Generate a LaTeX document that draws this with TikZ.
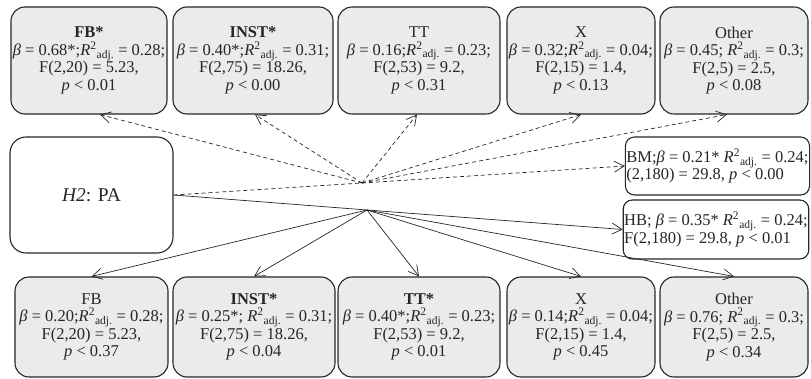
\documentclass[tikz,border=0pt]{standalone}
\usepackage{fontspec}
\setmainfont{Liberation Serif}
\usetikzlibrary{arrows.meta}
\definecolor{boxfill}{HTML}{EBEBEB}
\definecolor{ink}{HTML}{262626}
\newcommand\bb{{\itshape β}}
\newcommand\pp{{\itshape p}}
\newcommand\myR{{\itshape R}\textsuperscript{2}\textsubscript{adj.}}
\begin{document}
\begin{tikzpicture}[x=1pt,y=-1pt,
  every node/.style={font=\fontsize{16.5}{17.5}\selectfont, text=ink},
  gbox/.style={draw=ink, line width=1.1pt, fill=boxfill, rounded corners=14pt,
    align=center, inner sep=0pt, minimum height=#1},
  gbox/.default=107,
  wbox/.style={draw=ink, line width=1.1pt, fill=white, rounded corners=9pt,
    align=left, inner sep=1pt},
  dline/.style={ink, line width=0.7pt, dash pattern=on 4pt off 3pt,
    -{Straight Barb[length=10pt,width=11pt]}},
  sline/.style={ink, line width=0.7pt, -{Straight Barb[length=10pt,width=11pt]}},
  plain/.style={ink, line width=0.7pt}
]
\useasboundingbox (0,0) rectangle (811,379);
% top row
\node[gbox, minimum width=156pt] (t1) at (89,60.5) {\textbf{FB*}\\\bb{} = 0.68*;\myR{} = 0.28;\\F(2,20) = 5.23,\\\pp{} < 0.01};
\node[gbox, minimum width=160pt] (t2) at (253,60.5) {\textbf{INST*}\\\bb{} = 0.40*;\myR{} = 0.31;\\F(2,75) = 18.26,\\\pp{} < 0.00};
\node[gbox, minimum width=162pt] (t3) at (419,60.5) {TT\\\bb{} = 0.16;\myR{} = 0.23;\\F(2,53) = 9.2,\\\pp{} < 0.31};
\node[gbox, minimum width=148pt] (t4) at (581,60.5) {X\\\bb{} = 0.32;\myR{} = 0.04;\\F(2,15) = 1.4,\\\pp{} < 0.13};
\node[gbox, minimum width=148pt] (t5) at (734,60.5) {Other\\\bb{} = 0.45; \myR{} = 0.3;\\F(2,5) = 2.5,\\\pp{} < 0.08};
% bottom row
\node[gbox=100, minimum width=153pt] (b1) at (91.5,327) {FB\\\bb{} = 0.20;\myR{} = 0.28;\\F(2,20) = 5.23,\\\pp{} < 0.37};
\node[gbox=100, minimum width=162pt] (b2) at (254,327) {\textbf{INST*}\\\bb{} = 0.25*; \myR{} = 0.31;\\F(2,75) = 18.26,\\\pp{} < 0.04};
\node[gbox=100, minimum width=162pt] (b3) at (419,327) {\textbf{TT*}\\\bb{} = 0.40*;\myR{} = 0.23;\\F(2,53) = 9.2,\\\pp{} < 0.01};
\node[gbox=100, minimum width=148pt] (b4) at (581,327) {X\\\bb{} = 0.14;\myR{} = 0.04;\\F(2,15) = 1.4,\\\pp{} < 0.45};
\node[gbox=100, minimum width=148pt] (b5) at (734,327) {Other\\\bb{} = 0.76; \myR{} = 0.3;\\F(2,5) = 2.5,\\\pp{} < 0.34};
% source
\node[draw=ink, line width=1.1pt, fill=white, rounded corners=16pt, minimum width=163pt, minimum height=116pt, inner sep=0pt, font=\fontsize{19.5}{21}\selectfont] (h2) at (91.5,195) {\textit{H2}: PA};
% right boxes
\node[wbox, minimum width=181pt, minimum height=58pt] (bm) at (717.5,166) {BM;\bb{} = 0.21* \myR{} = 0.24;\\(2,180) = 29.8, \pp{} < 0.00};
\node[wbox, minimum width=180pt, minimum height=59pt] (hb) at (716,229.5) {HB; \bb{} = 0.35* \myR{} = 0.24;\\F(2,180) = 29.8, \pp{} < 0.01};
% hubs
\coordinate (hd) at (362,183);
\coordinate (hs) at (367,210);
\draw[plain, dash pattern=on 4pt off 3pt] (h2.east) -- (hd);
\draw[plain] (h2.east) -- (hs);
\draw[dline] (hd) -- ([xshift=11pt]t1.south);
\draw[dline] (hd) -- ([xshift=2pt]t2.south);
\draw[dline] (hd) -- ([xshift=-2pt]t3.south);
\draw[dline] (hd) -- (t4.south);
\draw[dline] (hd) -- ([xshift=-7pt]t5.south);
\draw[dline] (hd) -- (bm.west);
\draw[sline] (hs) -- (b1.north);
\draw[sline] (hs) -- (b2.north);
\draw[sline] (hs) -- (b3.north);
\draw[sline] (hs) -- (b4.north);
\draw[sline] (hs) -- (b5.north);
\draw[sline] (hs) -- (hb.west);
\end{tikzpicture}
\end{document}
